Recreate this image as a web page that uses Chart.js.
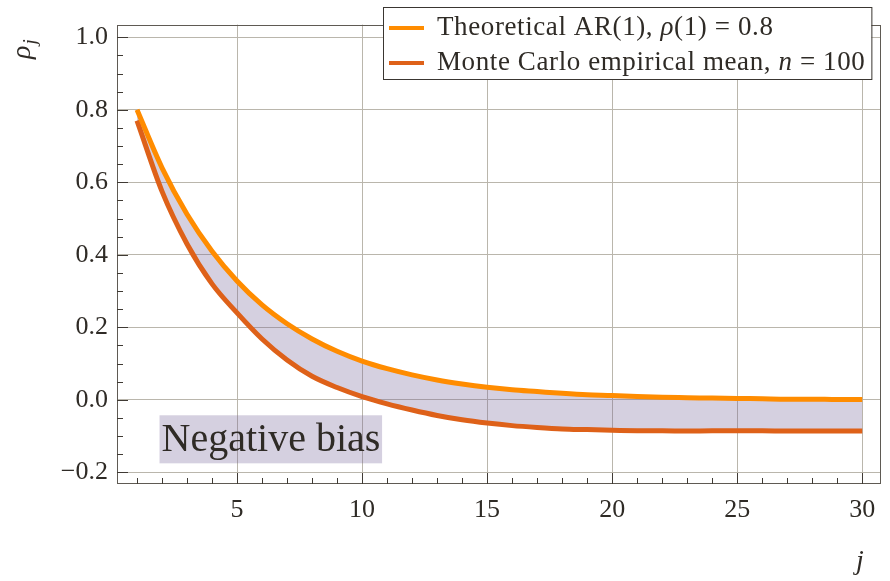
<!DOCTYPE html>
<html><head><meta charset="utf-8">
<script src="https://cdn.jsdelivr.net/npm/chart.js@4/dist/chart.umd.min.js"></script>
<style>html,body{margin:0;padding:0;background:#fff;}#wrap{width:890px;height:581px;position:relative;}
.pre{font-family:"Liberation Serif";position:absolute;left:-1000px;top:-1000px;}</style>
</head><body><div id="wrap"><canvas id="c" width="890" height="581"></canvas></div>
<span class="pre">0.8 Negative <i>ρ j</i></span>
<script>
// ---- data ----
const lags = [1,2,3,4,5,6,7,8,9,10,11,12,13,14,15,16,17,18,19,20,21,22,23,24,25,26,27,28,29,30];
const theoretical = [0.800,0.640,0.512,0.410,0.328,0.262,0.210,0.168,0.134,0.107,0.086,0.069,0.055,0.044,0.035,0.028,0.023,0.018,0.014,0.012,0.009,0.007,0.006,0.005,0.004,0.003,0.002,0.002,0.001,0.001];
const monteCarlo = [0.770,0.575,0.430,0.320,0.240,0.168,0.110,0.065,0.034,0.009,-0.011,-0.028,-0.043,-0.055,-0.064,-0.071,-0.076,-0.080,-0.082,-0.084,-0.085,-0.085,-0.086,-0.085,-0.085,-0.085,-0.086,-0.086,-0.086,-0.086];
const xTickValues = [5,10,15,20,25,30];
const yTickValues = [-0.2,0.0,0.2,0.4,0.6,0.8,1.0];
const seriesLabelParts = [
  [['Theoretical AR(1), ',false],['ρ',true],['(1) = 0.8',false]],
  [['Monte Carlo empirical mean, ',false],['n',true],[' = 100',false]]
];
const annotationText = 'Negative bias';
const yAxisTitle = ['ρ','j'];
const xAxisTitle = 'j';

// ---- styling ----
const SERIF = '"Liberation Serif", serif';
const TEXT = '#2f2b26';
const colTheo = '#FF8C00';
const colMC = '#DE6119';
const fillCol = 'rgba(115,98,152,0.30)';
const LEG_FONT = 27;

const decor = {
  id:'decor',
  beforeDatasetsDraw(chart){
    const {ctx, scales:{x,y}} = chart;
    const x1 = x.getPixelForValue(1.9), x2 = x.getPixelForValue(10.8);
    const y1 = y.getPixelForValue(-0.0425), y2 = y.getPixelForValue(-0.175);
    ctx.save();
    ctx.fillStyle = fillCol;
    ctx.fillRect(x1, y1, x2-x1, y2-y1);
    ctx.fillStyle = TEXT;
    ctx.font = '40px ' + SERIF;
    ctx.textBaseline = 'alphabetic';
    ctx.textAlign = 'left';
    ctx.fillText(annotationText, x1+2, y1+36);
    ctx.restore();
  },
  afterDraw(chart){
    const {ctx, chartArea:a, scales:{x,y}} = chart;
    ctx.save();
    ctx.strokeStyle = '#5f5a53';
    ctx.lineWidth = 1;
    ctx.strokeRect(Math.round(a.left)+0.5, Math.round(a.top)+0.5, Math.round(a.right-a.left)-1, Math.round(a.bottom-a.top)-1);
    ctx.strokeStyle = '#3f3a34';
    ctx.beginPath();
    for (let k=-4;k<=20;k++){
      const py = Math.round(y.getPixelForValue(k*0.05))+0.5;
      const len = (k%4===0)?11:6;
      ctx.moveTo(a.left, py); ctx.lineTo(a.left+len, py);
    }
    for (let j=1;j<=30;j++){
      const px = Math.round(x.getPixelForValue(j))+0.5;
      const len = (j%5===0)?11:6;
      ctx.moveTo(px, a.bottom); ctx.lineTo(px, a.bottom-len);
    }
    ctx.stroke();
    ctx.fillStyle = TEXT;
    ctx.save();
    ctx.translate(30, 59);
    ctx.rotate(-Math.PI/2);
    ctx.font = 'italic 28px ' + SERIF;
    ctx.textBaseline = 'alphabetic';
    ctx.fillText(yAxisTitle[0], 0, 0);
    const w = ctx.measureText(yAxisTitle[0]).width;
    ctx.font = 'italic 19px ' + SERIF;
    ctx.fillText(yAxisTitle[1], w+1, 6);
    ctx.restore();
    ctx.font = 'italic 28px ' + SERIF;
    ctx.fillText(xAxisTitle, 856, 569);
    // legend
    const lx = 383, ly = 7, rowY = [25, 60];
    if ('letterSpacing' in ctx) ctx.letterSpacing = '0.6px';
    const widths = seriesLabelParts.map(parts=>{
      let tw=0;
      parts.forEach(([t,it])=>{ctx.font=(it?'italic ':'')+LEG_FONT+'px '+SERIF; tw+=ctx.measureText(t).width;});
      return tw;
    });
    const maxW = Math.max(...widths);
    const textX = 437;
    const rx = textX + maxW + 6;
    ctx.fillStyle = '#fff';
    ctx.fillRect(lx, ly, rx-lx, 72);
    ctx.strokeStyle = '#3a3631';
    ctx.lineWidth = 1;
    ctx.strokeRect(lx+0.5, ly+0.5, rx-lx, 72);
    const cols = [colTheo, colMC];
    seriesLabelParts.forEach((parts,i)=>{
      ctx.strokeStyle = cols[i];
      ctx.lineWidth = 4;
      ctx.beginPath(); ctx.moveTo(389, rowY[i]+3); ctx.lineTo(424, rowY[i]+3); ctx.stroke();
      let cx = textX;
      ctx.fillStyle = TEXT;
      ctx.textBaseline = 'alphabetic';
      parts.forEach(([t,it])=>{
        ctx.font=(it?'italic ':'')+LEG_FONT+'px '+SERIF;
        ctx.fillText(t, cx, rowY[i]+10);
        cx += ctx.measureText(t).width;
      });
    });
    ctx.restore();
  }
};

function build(){
new Chart(document.getElementById('c'), {
  type:'line',
  data:{
    datasets:[
      {label: seriesLabelParts[0].map(p=>p[0]).join(''), data: lags.map((j,i)=>({x:j,y:theoretical[i]})),
       borderColor: colTheo, borderWidth:5, pointRadius:0, cubicInterpolationMode:'monotone', fill:false},
      {label: seriesLabelParts[1].map(p=>p[0]).join(''), data: lags.map((j,i)=>({x:j,y:monteCarlo[i]})),
       borderColor: colMC, borderWidth:5, pointRadius:0, cubicInterpolationMode:'monotone', fill:{target:0}, backgroundColor: fillCol}
    ]
  },
  options:{
    responsive:false, animation:false, devicePixelRatio:1,
    layout:{padding:{top:6,right:9,left:0,bottom:0}},
    plugins:{legend:{display:false}, tooltip:{enabled:false}},
    scales:{
      x:{type:'linear', min:0.2, max:30.75,
         afterBuildTicks:s=>{s.ticks = xTickValues.map(v=>({value:v}));},
         afterFit:s=>{s.height=97;},
         grid:{color:'#BAB6AC', lineWidth:1, drawTicks:false},
         border:{display:false},
         ticks:{font:{family:SERIF,size:26}, color:TEXT, padding:11, maxRotation:0, autoSkip:false, callback:v=>String(v)}},
      y:{type:'linear', min:-0.232, max:1.035,
         afterBuildTicks:s=>{s.ticks = yTickValues.map(v=>({value:v}));},
         afterFit:s=>{s.width=117;},
         grid:{color:'#BAB6AC', lineWidth:1, drawTicks:false},
         border:{display:false},
         ticks:{font:{family:SERIF,size:26}, color:TEXT, padding:9, autoSkip:false,
                callback:v=> v<0 ? '−'+Math.abs(v).toFixed(1) : v.toFixed(1)}}
    }
  },
  plugins:[decor]
});
}
Promise.all([
  document.fonts.load('25px "Liberation Serif"'),
  document.fonts.load('italic 25px "Liberation Serif"')
]).then(build, build);
</script></body></html>
